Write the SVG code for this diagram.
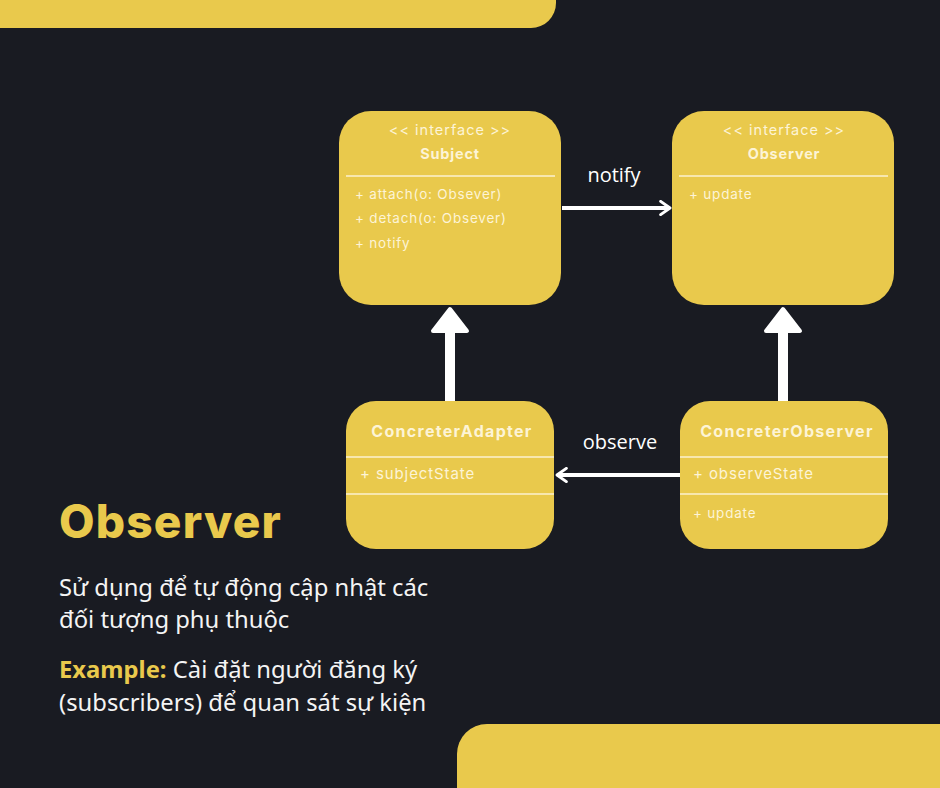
<svg xmlns="http://www.w3.org/2000/svg" width="940" height="788" viewBox="0 0 940 788">
  <defs>
    <style>
      .bg { fill: #191b22; }
      .band { fill: #e9c94c; }
      .box { fill: #e9c94c; }
      .div { stroke: #fbf1cf; stroke-width: 1.5; }
      .stereo { font-family: Inter, "Noto Sans", sans-serif; font-size: 14.5px; letter-spacing: 1px; fill: #fdf4d6; text-anchor: middle; }
      .name { font-family: Inter, "Noto Sans", sans-serif; font-size: 14.5px; letter-spacing: 0.8px; font-weight: 700; fill: #fdf4d6; text-anchor: middle; }
      .cname { font-family: Inter, "Noto Sans", sans-serif; font-size: 16px; letter-spacing: 1.3px; font-weight: 700; fill: #fdf4d6; text-anchor: middle; }
      .mem { font-family: Inter, "Noto Sans", sans-serif; font-size: 13.5px; letter-spacing: 0.8px; fill: #fdf4d6; }
      .mem2 { font-family: Inter, "Noto Sans", sans-serif; font-size: 15px; letter-spacing: 0.9px; fill: #fdf4d6; }
      .lbl { font-family: "Open Sans", "Noto Sans", sans-serif; font-size: 20px; fill: #ffffff; text-anchor: middle; }
      .shaft { stroke: #ffffff; stroke-width: 4; fill: none; }
      .thick { stroke: #ffffff; stroke-width: 10; fill: none; }
      .head { fill: #ffffff; stroke: #ffffff; stroke-width: 4; stroke-linejoin: round; }
      .title { font-family: Inter, "Noto Sans", sans-serif; font-size: 46px; letter-spacing: 1.2px; font-weight: 800; fill: #e9c94c; }
      .body { font-family: "Noto Sans", "Open Sans", sans-serif; font-size: 23.8px; fill: #f4f4f4; }
      .em { font-weight: 700; fill: #e9c94c; }
    </style>
    <marker id="chev" viewBox="0 0 12 12" refX="9" refY="6" markerWidth="4" markerHeight="4" orient="auto" markerUnits="strokeWidth">
      <path d="M2,1 L9,6 L2,11" fill="none" stroke="#ffffff" stroke-width="2.2" stroke-linecap="round" stroke-linejoin="round"/>
    </marker>
  </defs>

  <rect class="bg" x="0" y="0" width="940" height="788"/>

  <!-- decorative bands -->
  <path class="band" d="M0,0 H556 V3 A25,25 0 0 1 531,28 H0 Z"/>
  <path class="band" d="M457,788 V754 A30,30 0 0 1 487,724 H940 V788 Z"/>

  <!-- connectors -->
  <g id="connectors">
    <line class="shaft" x1="562" y1="208" x2="670" y2="208" marker-end="url(#chev)"/>
    <line class="shaft" x1="680" y1="475" x2="557" y2="475" marker-end="url(#chev)"/>
    <line class="thick" x1="450" y1="401" x2="450" y2="328"/>
    <path class="head" d="M450,309 L467,331 L433,331 Z"/>
    <line class="thick" x1="783" y1="401" x2="783" y2="328"/>
    <path class="head" d="M783,309 L800,331 L766,331 Z"/>
    <text class="lbl" x="614" y="182">notify</text>
    <text class="lbl" x="620" y="449">observe</text>
  </g>

  <!-- Subject -->
  <g id="subject">
    <rect class="box" x="339" y="111" width="222" height="194" rx="32"/>
    <text class="stereo" x="450" y="135">&lt;&lt; interface &gt;&gt;</text>
    <text class="name" x="450" y="159">Subject</text>
    <line class="div" x1="346" y1="176" x2="555" y2="176"/>
    <text class="mem" x="355" y="199">+ attach(o: Obsever)</text>
    <text class="mem" x="355" y="223">+ detach(o: Obsever)</text>
    <text class="mem" x="355" y="248">+ notify</text>
  </g>

  <!-- Observer -->
  <g id="observer">
    <rect class="box" x="672" y="111" width="222" height="194" rx="32"/>
    <text class="stereo" x="784" y="135">&lt;&lt; interface &gt;&gt;</text>
    <text class="name" x="784" y="159">Observer</text>
    <line class="div" x1="679" y1="176" x2="888" y2="176"/>
    <text class="mem" x="689" y="199">+ update</text>
  </g>

  <!-- ConcreterAdapter -->
  <g id="concreter-adapter">
    <rect class="box" x="346" y="401" width="208" height="148" rx="30"/>
    <text class="cname" x="452" y="437">ConcreterAdapter</text>
    <line class="div" x1="346" y1="457" x2="554" y2="457"/>
    <text class="mem2" x="360" y="479">+ subjectState</text>
    <line class="div" x1="346" y1="494" x2="554" y2="494"/>
  </g>

  <!-- ConcreterObserver -->
  <g id="concreter-observer">
    <rect class="box" x="680" y="401" width="208" height="148" rx="30"/>
    <text class="cname" x="787" y="437">ConcreterObserver</text>
    <line class="div" x1="680" y1="457" x2="888" y2="457"/>
    <text class="mem2" x="693" y="479">+ observeState</text>
    <line class="div" x1="680" y1="494" x2="888" y2="494"/>
    <text class="mem" x="693" y="518">+ update</text>
  </g>

  <!-- description -->
  <text class="title" x="59" y="538">Observer</text>
  <text class="body" x="59" y="596">Sử dụng để tự động cập nhật các</text>
  <text class="body" x="59" y="628">đối tượng phụ thuộc</text>
  <text class="body" x="59" y="678"><tspan class="em">Example:</tspan> Cài đặt người đăng ký</text>
  <text class="body" x="59" y="711">(subscribers) để quan sát sự kiện</text>
</svg>
